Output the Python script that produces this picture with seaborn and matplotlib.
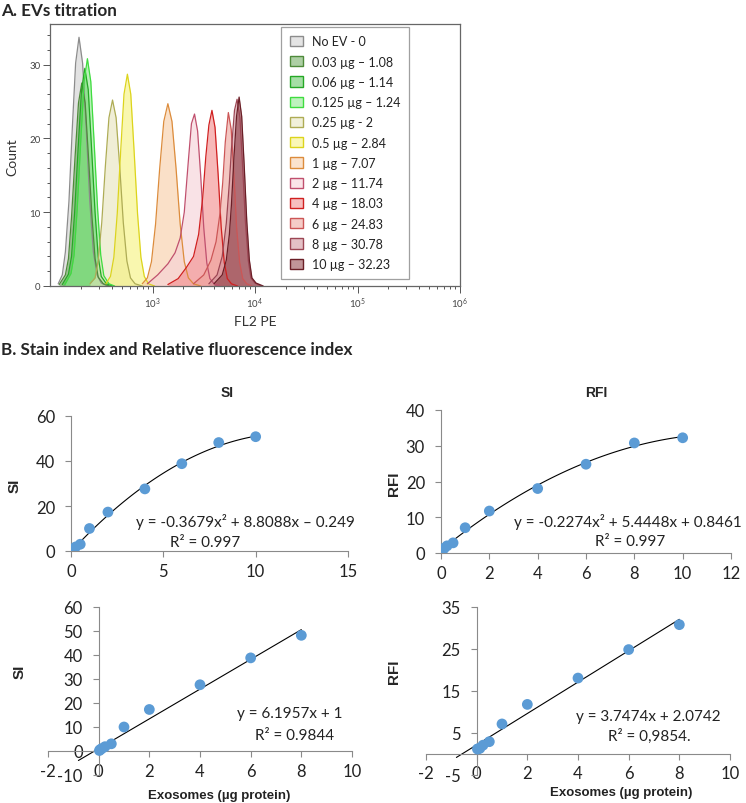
import matplotlib
matplotlib.use("Agg")
import matplotlib.pyplot as plt
import seaborn as sns
import numpy as np
import pandas as pd
from matplotlib.patches import Patch
from matplotlib.colors import to_rgba
from matplotlib.ticker import MultipleLocator, LogLocator, NullFormatter

sns.set_theme(style="white")
plt.rcParams["font.family"] = ["Lato", "DejaVu Sans"]
plt.rcParams["axes.unicode_minus"] = False

# ---- panel A: flow histograms (log10 FL2 PE, count)
samples = ["No EV - 0", "0.03 µg – 1.08", "0.06 µg – 1.14", "0.125 µg – 1.24",
           "0.25 µg - 2", "0.5 µg – 2.84", "1 µg – 7.07", "2 µg – 11.74",
           "4 µg – 18.03", "6 µg – 24.83", "8 µg – 30.78", "10 µg – 32.23"]
edge_colors = ["#8c8c8c", "#4e8a3a", "#25a825", "#3fdc3f", "#aeac55", "#dcd41c",
               "#dc8c3c", "#c0506e", "#d02020", "#cc5656", "#9c4654", "#6a1e26"]
fill_colors = ["#cfcfcf", "#6aa85a", "#5cc45c", "#8ae88a", "#e6e4bc", "#f6f27a",
               "#f8cca4", "#f6d0d6", "#f28a8a", "#eea29a", "#cf8f98", "#8e3c44"]

h_none_x = [2.08, 2.12, 2.15, 2.185, 2.218, 2.25, 2.283, 2.318, 2.353, 2.388, 2.423, 2.46, 2.50, 2.56]
h_none_y = [0.3, 1.5, 4.6, 11.5, 21.5, 30.2, 33.7, 30.2, 21.5, 11.5, 4.6, 1.5, 0.4, 0]
h_003_x = [2.09, 2.15, 2.18, 2.21, 2.245, 2.278, 2.31, 2.343, 2.375, 2.41, 2.44, 2.47, 2.52, 2.58]
h_003_y = [0.2, 1.5, 3.7, 9.3, 17.6, 24.8, 27.5, 24.8, 17.6, 9.3, 3.7, 1.2, 0.3, 0]
h_006_x = [2.12, 2.18, 2.21, 2.24, 2.275, 2.308, 2.34, 2.373, 2.405, 2.44, 2.47, 2.50, 2.55, 2.61]
h_006_y = [0.2, 1.6, 4.0, 9.9, 18.8, 26.6, 29.5, 26.6, 18.8, 9.9, 4.0, 1.3, 0.3, 0]
h_0125_x = [2.145, 2.205, 2.235, 2.265, 2.30, 2.333, 2.365, 2.398, 2.43, 2.465, 2.495, 2.525, 2.575, 2.63]
h_0125_y = [0.2, 1.7, 4.2, 10.3, 19.6, 27.7, 30.8, 27.7, 19.6, 10.3, 4.2, 1.4, 0.3, 0]
h_025_x = [2.39, 2.44, 2.47, 2.505, 2.54, 2.575, 2.61, 2.645, 2.68, 2.715, 2.75, 2.785, 2.83, 2.90]
h_025_y = [0.3, 1.1, 3.4, 8.6, 16.2, 22.8, 25.2, 22.8, 16.2, 8.6, 3.4, 1.1, 0.3, 0]
h_05_x = [2.545, 2.59, 2.623, 2.656, 2.69, 2.722, 2.755, 2.788, 2.82, 2.854, 2.887, 2.92, 2.96, 3.02]
h_05_y = [0.3, 1.3, 3.9, 9.8, 18.4, 26.0, 28.7, 26.0, 18.4, 9.8, 3.9, 1.3, 0.3, 0]
h_1_x = [2.90, 2.95, 2.99, 3.03, 3.07, 3.11, 3.15, 3.19, 3.23, 3.27, 3.31, 3.35, 3.40, 3.47]
h_1_y = [0.3, 1.1, 3.3, 8.4, 15.9, 22.3, 24.7, 22.3, 15.9, 8.4, 3.3, 1.1, 0.3, 0]
h_2_x = [2.95, 3.05, 3.15, 3.22, 3.27, 3.31, 3.35, 3.38, 3.41, 3.44, 3.47, 3.50, 3.53, 3.56, 3.60, 3.66]
h_2_y = [0.3, 1.5, 3.0, 4.5, 6.5, 10.0, 17.0, 22.0, 23.3, 21.0, 15.0, 7.9, 3.1, 1.0, 0.3, 0]
h_4_x = [3.15, 3.25, 3.33, 3.40, 3.45, 3.49, 3.52, 3.55, 3.58, 3.61, 3.64, 3.67, 3.70, 3.73, 3.77, 3.83]
h_4_y = [0.2, 1.0, 2.5, 4.0, 7.0, 12.0, 17.5, 21.8, 23.8, 21.5, 15.2, 8.0, 3.2, 1.0, 0.3, 0]
h_6_x = [3.40, 3.50, 3.57, 3.62, 3.66, 3.685, 3.71, 3.74, 3.768, 3.795, 3.82, 3.85, 3.88, 3.92, 3.97]
h_6_y = [0.3, 1.5, 3.5, 6.0, 10.0, 14.0, 19.5, 23.5, 21.2, 15.0, 8.0, 3.2, 1.0, 0.3, 0]
h_8_x = [3.55, 3.63, 3.68, 3.72, 3.75, 3.77, 3.80, 3.825, 3.853, 3.88, 3.907, 3.935, 3.96, 4.00, 4.06]
h_8_y = [0.3, 1.5, 4.0, 8.5, 14.0, 18.5, 23.8, 25.3, 22.8, 16.0, 8.6, 3.4, 1.1, 0.4, 0]
h_10_x = [3.60, 3.68, 3.72, 3.75, 3.77, 3.795, 3.82, 3.845, 3.87, 3.895, 3.92, 3.945, 3.97, 4.01, 4.08]
h_10_y = [0.3, 1.5, 3.5, 7.0, 11.0, 17.5, 23.0, 25.6, 23.0, 16.2, 8.7, 3.5, 1.1, 0.4, 0]

hist_x = [h_none_x, h_003_x, h_006_x, h_0125_x, h_025_x, h_05_x,
          h_1_x, h_2_x, h_4_x, h_6_x, h_8_x, h_10_x]
hist_y = [h_none_y, h_003_y, h_006_y, h_0125_y, h_025_y, h_05_y,
          h_1_y, h_2_y, h_4_y, h_6_y, h_8_y, h_10_y]

# ---- panel B: stain index / relative fluorescence index
dose = [0.03, 0.06, 0.125, 0.25, 0.5, 1, 2, 4, 6, 8, 10]
si = [0.2, 0.6, 1.0, 1.8, 3.0, 10.0, 17.3, 27.6, 38.8, 48.2, 50.8]
rfi = [1.08, 1.14, 1.24, 2.0, 2.84, 7.07, 11.74, 18.03, 24.83, 30.78, 32.23]

si_quad = [-0.3679, 8.8088, -0.249]
rfi_quad = [-0.2274, 5.4448, 0.8461]
si_lin = [6.1957, 1]
rfi_lin = [3.7474, 2.0742]

W, H = 746, 804
fig = plt.figure(figsize=(W / 100, H / 100), dpi=100)


def box(l, t, r, b):
    return [l / W, 1 - b / H, (r - l) / W, (b - t) / H]


def ftext(x, y, s, **kw):
    fig.text(x / W, 1 - y / H, s, **kw)


# ===== A. histogram
ax = fig.add_axes(box(50, 25, 460, 287))
rows = []
for name, xs, ys in zip(samples, hist_x, hist_y):
    for lx, c in zip(xs, ys):
        rows.append({"sample": name, "fl2": 10 ** lx, "count": c})
hist = pd.DataFrame(rows)

for name, fc in zip(samples, fill_colors):
    d = hist[hist["sample"] == name]
    ax.fill_between(d["fl2"], 0, d["count"], color=to_rgba(fc, 0.6), lw=0)
sns.lineplot(data=hist, x="fl2", y="count", hue="sample", palette=dict(zip(samples, edge_colors)),
             estimator=None, sort=False, legend=False, lw=0.9, ax=ax)

ax.set_xscale("log")
ax.set_xlim(100, 1e6)
ax.set_ylim(0, 35.5)
ax.set_xticks([1e3, 1e4, 1e5, 1e6])
ax.xaxis.set_minor_locator(LogLocator(base=10, subs=np.arange(2, 10)))
ax.xaxis.set_minor_formatter(NullFormatter())
ax.set_yticks([0, 10, 20, 30])
ax.yaxis.set_minor_locator(MultipleLocator(2))
ax.tick_params(which="both", direction="out", color="#555555", labelsize=7, labelcolor="#444444",
               left=True, bottom=True, width=0.7)
ax.tick_params(which="major", length=5, pad=2)
ax.tick_params(which="minor", length=2.5)
for s in ax.spines.values():
    s.set_color("#666666")
    s.set_linewidth(0.9)
ax.set_xlabel("")
ax.set_ylabel("")

handles = [Patch(facecolor=to_rgba(fc, 0.55), edgecolor=ec, lw=1.0)
           for fc, ec in zip(fill_colors, edge_colors)]
leg = ax.legend(handles, samples, loc="upper left", bbox_to_anchor=(0.563, 0.99),
                frameon=True, fancybox=False, edgecolor="#888888", fontsize=9,
                labelspacing=0.66, handlelength=1.1, handleheight=0.9,
                handletextpad=0.7, borderpad=0.7, borderaxespad=0)
leg.get_frame().set_linewidth(0.9)
for t in leg.get_texts():
    t.set_color("#222222")

ftext(12, 157, "Count", rotation=90, ha="center", va="center", fontsize=10, color="#333333")
ftext(255, 322, "FL2 PE", ha="center", va="center", fontsize=10, color="#333333")
ftext(1, 11, "A. EVs titration", ha="left", va="center", fontsize=12.3, fontweight="bold")
ftext(1, 350, "B. Stain index and Relative fluorescence index", ha="left", va="center",
      fontsize=12.3, fontweight="bold")

# ===== B. Excel style scatter panels
dot = "#5b9bd5"
grey = "#8a8a8a"


def excel_axes(ax, xlim, ylim, xticks, yticks, origin=False):
    ax.set_xlim(*xlim)
    ax.set_ylim(*ylim)
    ax.set_xticks(xticks)
    ax.set_yticks(yticks)
    ax.spines["top"].set_visible(False)
    ax.spines["right"].set_visible(False)
    for s in ["left", "bottom"]:
        ax.spines[s].set_color(grey)
        ax.spines[s].set_linewidth(0.8)
        if origin:
            ax.spines[s].set_position(("data", 0))
    ax.tick_params(direction="out", length=4.5, width=0.8, color=grey, labelsize=12,
                   labelcolor="#222222", left=True, bottom=True)
    ax.tick_params(axis="y", pad=7)
    ax.tick_params(axis="x", pad=4)
    ax.set_xlabel("")
    ax.set_ylabel("")
    ax.patch.set_alpha(0)


# SI quadratic
ax1 = fig.add_axes(box(71, 417, 348, 552))
sns.scatterplot(x=dose, y=si, color=dot, s=60, edgecolor="none", ax=ax1, zorder=3)
xs = np.linspace(dose[0], dose[-1], 100)
ax1.plot(xs, np.polyval(si_quad, xs), color="black", lw=0.8)
excel_axes(ax1, (0, 15), (0, 60), [0, 5, 10, 15], [0, 20, 40, 60])

# RFI quadratic
ax2 = fig.add_axes(box(441, 411, 731, 554))
sns.scatterplot(x=dose, y=rfi, color=dot, s=60, edgecolor="none", ax=ax2, zorder=3)
ax2.plot(xs, np.polyval(rfi_quad, xs), color="black", lw=0.8)
excel_axes(ax2, (0, 12), (0, 40), [0, 2, 4, 6, 8, 10, 12], [0, 10, 20, 30, 40])

# SI linear
ax3 = fig.add_axes(box(48, 608, 352, 776))
sns.scatterplot(x=dose[:-1], y=si[:-1], color=dot, s=60, edgecolor="none", ax=ax3, zorder=3)
xl = np.array([-0.8, dose[-2]])
ax3.plot(xl, np.polyval(si_lin, xl), color="black", lw=0.8)
excel_axes(ax3, (-2, 10), (-10, 60), [-2, 0, 2, 4, 6, 8, 10], list(range(-10, 61, 10)), origin=True)

# RFI linear
ax4 = fig.add_axes(box(426, 608, 730, 775.5))
sns.scatterplot(x=dose[:-1], y=rfi[:-1], color=dot, s=60, edgecolor="none", ax=ax4, zorder=3)
ax4.plot(xl, np.polyval(rfi_lin, xl), color="black", lw=0.8)
excel_axes(ax4, (-2, 10), (-5, 35), [-2, 0, 2, 4, 6, 8, 10], [-5, 5, 15, 25, 35], origin=True)

# titles, axis titles, trendline labels
for x, y, s in [(227, 393, "SI"), (596, 393, "RFI")]:
    ftext(x, y, s, ha="center", va="center", fontsize=10, fontweight="bold", family="Liberation Sans")
for x, y, s in [(15, 486, "SI"), (394, 484, "RFI"), (20, 672, "SI"), (394, 672, "RFI")]:
    ftext(x, y, s, ha="center", va="center", rotation=90, fontsize=11, fontweight="bold",
          family="Liberation Sans")
for x, y in [(219, 796), (621, 793)]:
    ftext(x, y, "Exosomes (µg protein)", ha="center", va="center", fontsize=9.5, fontweight="bold",
          family="Liberation Sans", color="#222222")

eq_kw = dict(ha="center", va="center", fontsize=11, color="#222222")
ftext(245, 522, "y = -0.3679x² + 8.8088x – 0.249", **eq_kw)
ftext(205, 543, "R² = 0.997", **eq_kw)
ftext(628, 522, "y = -0.2274x² + 5.4448x + 0.8461", **eq_kw)
ftext(630, 542, "R² = 0.997", **eq_kw)
ftext(290, 714, "y = 6.1957x + 1", **eq_kw)
ftext(295, 736, "R² = 0.9844", **eq_kw)
ftext(648, 717, "y = 3.7474x + 2.0742", **eq_kw)
ftext(649, 736, "R² = 0,9854.", **eq_kw)

fig.savefig("out.png", dpi=100)
